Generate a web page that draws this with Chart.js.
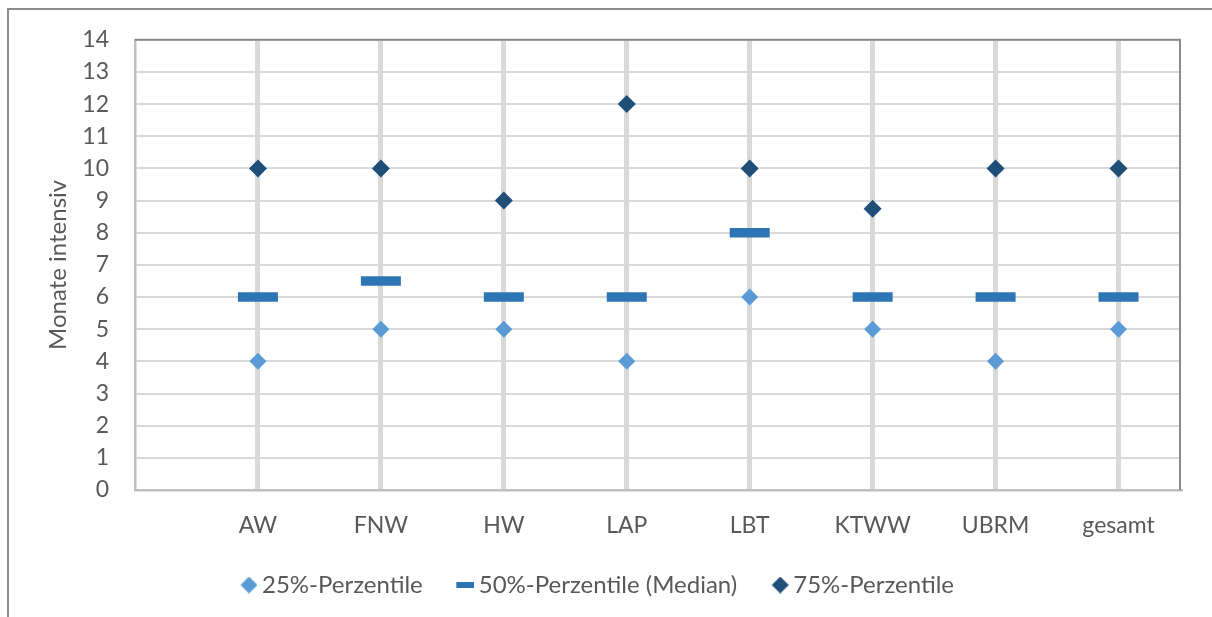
<!DOCTYPE html>
<html>
<head>
<meta charset="utf-8">
<script src="https://cdn.jsdelivr.net/npm/chart.js@4/dist/chart.umd.min.js"></script>
<style>
  html, body { margin: 0; padding: 0; background: #fff; overflow: hidden; }
  #wrap { position: relative; width: 1212px; height: 607px; }
  #frame { position: fixed; left: 7px; top: 8px; right: -20px; bottom: -20px;
           border-left: 2px solid #8c8c8c; border-top: 2px solid #8c8c8c; pointer-events: none; }
</style>
</head>
<body>
<div id="wrap">
  <canvas id="c"></canvas>
</div>
<div id="frame"></div>
<script>
// ---- data ----
const categories = ['AW', 'FNW', 'HW', 'LAP', 'LBT', 'KTWW', 'UBRM', 'gesamt'];
const p25 = [4, 5, 5, 4, 6, 5, 4, 5];
const p50 = [6, 6.5, 6, 6, 8, 6, 6, 6];
const p75 = [10, 10, 9, 12, 10, 8.75, 10, 10];
const seriesNames = ['25%-Perzentile', '50%-Perzentile (Median)', '75%-Perzentile'];
const yTicks = [0,1,2,3,4,5,6,7,8,9,10,11,12,13,14];

const C25 = '#5b9bd5', C50 = '#2e75b6', C75 = '#1f4e79';
const TXT = '#595959';
const FONT = 'Lato';

function pts(arr) { return arr.map((v, i) => ({x: i + 1, y: v})); }

// legend marker canvases (visible mark sits at the right end of a wider transparent canvas)
const MW = 39;
function diamondCanvas(color, w, h) {
  const c = document.createElement('canvas'); c.width = MW; c.height = h;
  const g = c.getContext('2d'); g.fillStyle = color; g.beginPath();
  const x0 = MW - w;
  g.moveTo(x0 + w/2, 0); g.lineTo(x0 + w, h/2); g.lineTo(x0 + w/2, h); g.lineTo(x0, h/2); g.closePath(); g.fill();
  return c;
}
function barCanvas(color, w, h) {
  const c = document.createElement('canvas'); c.width = MW; c.height = h;
  const g = c.getContext('2d'); g.fillStyle = color; g.fillRect(MW - w, 0, w, h);
  return c;
}
const legendMarks = [diamondCanvas(C25, 17, 17), barCanvas(C50, 18, 6), diamondCanvas(C75, 17, 17)];

const plotFrame = {
  id: 'plotFrame',
  afterDatasetsDraw(chart) {
    const a = chart.chartArea, ctx = chart.ctx;
    ctx.save();
    ctx.lineWidth = 2;
    ctx.strokeStyle = '#8a8a8a';
    ctx.beginPath();
    ctx.moveTo(a.left, a.top); ctx.lineTo(a.right, a.top); ctx.lineTo(a.right, a.bottom);
    ctx.stroke();
    ctx.restore();
  }
};

new Chart(document.getElementById('c'), {
  type: 'scatter',
  data: {
    datasets: [
      { label: seriesNames[0], data: pts(p25), pointStyle: 'rectRot', pointRadius: 8.5,
        pointBackgroundColor: C25, pointBorderColor: C25, pointBorderWidth: 0, backgroundColor: C25, borderColor: C25 },
      { label: seriesNames[1], data: pts(p50), pointStyle: 'line', pointRadius: 20,
        pointBorderColor: C50, pointBorderWidth: 9.5, backgroundColor: C50, borderColor: C50 },
      { label: seriesNames[2], data: pts(p75), pointStyle: 'rectRot', pointRadius: 9,
        pointBackgroundColor: C75, pointBorderColor: C75, pointBorderWidth: 0, backgroundColor: C75, borderColor: C75 }
    ]
  },
  options: {
    responsive: true,
    maintainAspectRatio: false,
    animation: false,
    events: [],
    layout: { padding: { left: 0, right: 32, top: 38, bottom: 0 } },
    scales: {
      x: {
        type: 'linear', min: 0, max: 8.5,
        afterBuildTicks(axis) { axis.ticks = categories.map((c, i) => ({ value: i + 1 })); },
        afterFit(axis) { axis.height = 63; },
        ticks: {
          autoSkip: false, maxRotation: 0, padding: 22, color: TXT,
          font: { family: FONT, size: 23 },
          callback: (v) => categories[v - 1] ?? ''
        },
        grid: { color: '#d9d9d9', lineWidth: 5, drawTicks: false },
        border: { display: true, color: '#bfbfbf', width: 2.5 }
      },
      y: {
        min: 0, max: 14,
        afterBuildTicks(axis) { axis.ticks = yTicks.map(v => ({ value: v })); },
        afterFit(axis) { axis.width = 135; },
        ticks: { padding: 26, color: TXT, font: { family: FONT, size: 23 } },
        grid: { color: '#d9d9d9', lineWidth: 2, drawTicks: false },
        border: { display: true, color: '#bfbfbf', width: 2.5 },
        title: { display: true, text: 'Monate intensiv', color: TXT,
                 font: { family: FONT, size: 24 }, padding: { top: 44, bottom: 0 } }
      }
    },
    plugins: {
      tooltip: { enabled: false },
      legend: {
        position: 'bottom',
        labels: {
          usePointStyle: true,
          boxWidth: 26, boxHeight: 17,
          padding: 20,
          color: TXT,
          font: { family: FONT, size: 24 },
          generateLabels(chart) {
            const items = Chart.defaults.plugins.legend.labels.generateLabels(chart);
            items.forEach((it, i) => { it.pointStyle = legendMarks[i]; });
            return items;
          }
        }
      }
    }
  },
  plugins: [plotFrame]
});
</script>
</body>
</html>
